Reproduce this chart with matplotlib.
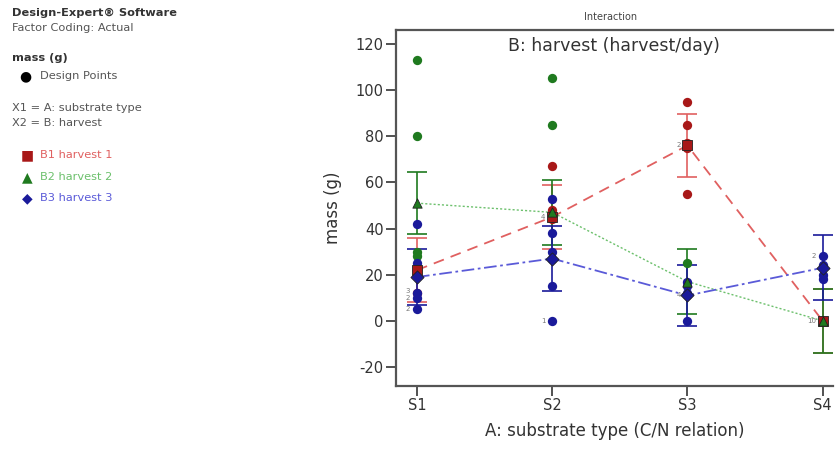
import numpy as np
import matplotlib.pyplot as plt

plt.rcParams['axes.unicode_minus'] = False

# substrate levels and harvest groups
substrates = ["S1", "S2", "S3", "S4"]
harvests = ["B1 harvest 1", "B2 harvest 2", "B3 harvest 3"]

# model means and CI half widths per harvest (S1..S4)
mean_h1 = [22, 45, 76, 0]
mean_h2 = [51, 47, 17, 0]
mean_h3 = [19, 27, 11, 23]
ci_h1 = [14, 14, 13.5, 14]
ci_h2 = [13.5, 14, 14, 14]
ci_h3 = [12, 14, 13, 14]

# design points (observed mass, g) per harvest and substrate
pts_h1 = [[22, 20, 12], [67, 48, 44], [95, 85, 77, 75, 55], [0]]
pts_h2 = [[113, 80, 30, 28], [105, 85, 46], [25], [0]]
pts_h3 = [[42, 25, 22, 12, 10, 5], [53, 38, 30, 27, 15, 0], [17, 15, 12, 11, 0], [28, 24, 20, 18]]

# replicate count labels (substrate index, value, text)
count_labels = [(0, 10, "2"), (0, 13, "3"), (0, 5, "2"), (1, 0, "1"), (1, 45, "4"),
                (2, 76, "2"), (2, 11, "4"), (3, 28, "2"), (3, 0, "10")]

point_cols = ["#a81818", "#1f7a1f", "#1a1a9a"]
line_cols = ["#e06060", "#6cc06c", "#5a5ad8"]
mean_markers = ["s", "^", "D"]
line_styles = [(0, (6, 4)), (0, (1.5, 1.5)), (0, (7, 2, 1.5, 2))]

fig = plt.figure(figsize=(8.37, 4.49), dpi=100)
ax = fig.add_axes([396 / 837, 1 - 386 / 449, 0.995 - 396 / 837, (386 - 30) / 449])

x = np.arange(1, len(substrates) + 1)
means = [mean_h1, mean_h2, mean_h3]
cis = [ci_h1, ci_h2, ci_h3]
pts = [pts_h1, pts_h2, pts_h3]

for k in range(3):
    ax.plot(x, means[k], color=line_cols[k], lw=1.3 if k != 1 else 1.0,
            linestyle=line_styles[k], zorder=2)
    ax.errorbar(x, means[k], yerr=cis[k], fmt="none", ecolor=line_cols[k] if k == 0 else point_cols[k],
                elinewidth=1.2, capsize=7, capthick=1.2, zorder=3)
    for i, vals in enumerate(pts[k]):
        ax.scatter([x[i]] * len(vals), vals, s=45, color=point_cols[k], zorder=4, linewidths=0)
    ax.scatter(x, means[k], marker=mean_markers[k], s=45, color=point_cols[k],
               edgecolor="#222222", linewidths=0.6, zorder=5)

for i, v, t in count_labels:
    ax.text(x[i] - 0.05, v, t, fontsize=5, color="#777777", ha="right", va="center")

ax.set_xlim(0.845, 4.075)
ax.set_ylim(-28.2, 126)
ax.set_xticks(x)
ax.set_xticklabels(substrates)
ax.set_yticks([-20, 0, 20, 40, 60, 80, 100, 120])
ax.tick_params(labelsize=10.5, colors="#333333", length=7, width=1.2, direction="out", pad=2)
for s in ["left", "bottom", "top"]:
    ax.spines[s].set_color("#555555")
    ax.spines[s].set_linewidth(1.6)
ax.spines["right"].set_visible(False)
ax.set_ylabel("mass (g)", fontsize=12, color="#333333", labelpad=10)
ax.set_xlabel("A: substrate type (C/N relation)", fontsize=12, color="#333333", labelpad=6)
ax.text(0.5, 0.955, "B: harvest (harvest/day)", transform=ax.transAxes, ha="center",
        va="center", fontsize=12.5, color="#333333")
fig.text(611 / 837, 1 - 17 / 449, "Interaction", ha="center", va="center", fontsize=7, color="#444444")

# left info panel
fs = 8.2
fig.text(12 / 837, 1 - 13 / 449, "Design-Expert\u00ae Software", fontsize=fs, weight="bold", color="#333333", va="center")
fig.text(12 / 837, 1 - 28 / 449, "Factor Coding: Actual", fontsize=fs, color="#555555", va="center")
fig.text(12 / 837, 1 - 58 / 449, "mass (g)", fontsize=fs, weight="bold", color="#333333", va="center")
fig.text(25 / 837, 1 - 76 / 449, "\u25cf", fontsize=10, color="black", va="center", ha="center")
fig.text(40 / 837, 1 - 76 / 449, "Design Points", fontsize=fs, color="#555555", va="center")
fig.text(12 / 837, 1 - 108 / 449, "X1 = A: substrate type", fontsize=fs, color="#555555", va="center")
fig.text(12 / 837, 1 - 123 / 449, "X2 = B: harvest", fontsize=fs, color="#555555", va="center")

legend_y = [155, 177, 198]
legend_sym = ["\u25a0", "\u25b2", "\u25c6"]
for k in range(3):
    fig.text(27 / 837, 1 - legend_y[k] / 449, legend_sym[k], fontsize=10, color=point_cols[k],
             va="center", ha="center")
    fig.text(40 / 837, 1 - legend_y[k] / 449, harvests[k], fontsize=fs, color=line_cols[k], va="center")

fig.savefig("out.png", dpi=100)
